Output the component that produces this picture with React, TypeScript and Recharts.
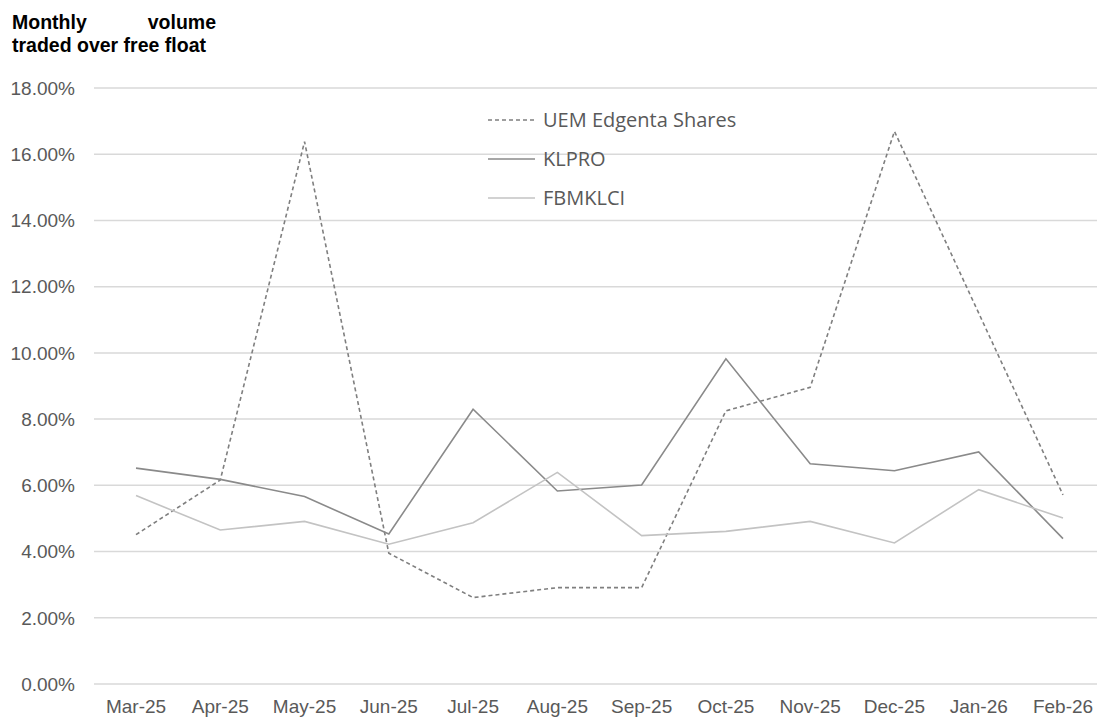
import { CartesianGrid, Legend, Line, LineChart, XAxis, YAxis } from 'recharts'

const months = ['Mar-25', 'Apr-25', 'May-25', 'Jun-25', 'Jul-25', 'Aug-25', 'Sep-25', 'Oct-25', 'Nov-25', 'Dec-25', 'Jan-26', 'Feb-26']
const uemShares = [4.51, 6.16, 16.38, 3.95, 2.61, 2.91, 2.91, 8.25, 8.96, 16.69, 11.2, 5.71]
const klpro = [6.52, 6.18, 5.66, 4.53, 8.3, 5.83, 6.01, 9.82, 6.65, 6.44, 7.01, 4.39]
const fbmklci = [5.69, 4.65, 4.91, 4.22, 4.87, 6.39, 4.48, 4.61, 4.91, 4.26, 5.87, 5.01]
const yTicks = [0, 2, 4, 6, 8, 10, 12, 14, 16, 18]
const legendOrder = ['UEM Edgenta Shares', 'KLPRO', 'FBMKLCI']

const data = months.map((m, i) => ({
  month: m,
  uem: uemShares[i],
  klpro: klpro[i],
  fbmklci: fbmklci[i],
}))

const axisFont = '"Liberation Sans", Arial, sans-serif'
const tickStyle = { fontSize: 19, fill: '#595959', fontFamily: axisFont }

function LegendBox(props: any) {
  const items = [...(props.payload || [])].sort(
    (a: any, b: any) => legendOrder.indexOf(a.value) - legendOrder.indexOf(b.value)
  )
  return (
    <div style={{ fontFamily: '"Open Sans", "Noto Sans", sans-serif', fontSize: 20, color: '#595959' }}>
      {items.map((it: any) => (
        <div key={it.value} style={{ display: 'flex', alignItems: 'center', height: 39 }}>
          <svg width={55} height={4}>
            <line
              x1={0}
              x2={47}
              y1={2}
              y2={2}
              stroke={it.color}
              strokeWidth={1.5}
              strokeDasharray={it.payload?.strokeDasharray}
            />
          </svg>
          <span>{it.value}</span>
        </div>
      ))}
    </div>
  )
}

export default function App() {
  return (
    <div style={{ position: 'absolute', left: 0, top: 0, width: 1097, height: 717, overflow: 'hidden', background: '#fff' }}>
      <div
        style={{
          position: 'absolute',
          left: 12,
          top: 11,
          fontFamily: axisFont,
          fontWeight: 'bold',
          fontSize: 19.5,
          lineHeight: '23px',
          color: '#000',
        }}
      >
        <div style={{ display: 'flex', justifyContent: 'space-between', width: 204 }}>
          <span>Monthly</span>
          <span>volume</span>
        </div>
        <div>traded over free float</div>
      </div>
      <LineChart width={1097} height={717} data={data} margin={{ top: 88, right: 0, left: 0, bottom: 0 }}>
        <CartesianGrid vertical={false} stroke="#d9d9d9" strokeWidth={1.5} />
        <XAxis
          dataKey="month"
          scale="point"
          padding={{ left: 42, right: 34 }}
          axisLine={false}
          tickLine={false}
          tickMargin={10}
          height={33}
          interval={0}
          tick={tickStyle}
        />
        <YAxis
          domain={[0, 18]}
          ticks={yTicks}
          width={94}
          axisLine={false}
          tickLine={false}
          tickMargin={13}
          tick={tickStyle}
          tickFormatter={(v: number) => `${v.toFixed(2)}%`}
        />
        <Legend
          layout="vertical"
          align="center"
          verticalAlign="middle"
          wrapperStyle={{ top: 100, left: 488, width: 320 }}
          content={<LegendBox />}
        />
        <Line
          type="linear"
          dataKey="uem"
          name="UEM Edgenta Shares"
          stroke="#7f7f7f"
          strokeWidth={1.6}
          strokeDasharray="4 3"
          dot={false}
          isAnimationActive={false}
        />
        <Line
          type="linear"
          dataKey="klpro"
          name="KLPRO"
          stroke="#8a8a8a"
          strokeWidth={1.6}
          dot={false}
          isAnimationActive={false}
        />
        <Line
          type="linear"
          dataKey="fbmklci"
          name="FBMKLCI"
          stroke="#c3c3c3"
          strokeWidth={1.6}
          dot={false}
          isAnimationActive={false}
        />
      </LineChart>
    </div>
  )
}
